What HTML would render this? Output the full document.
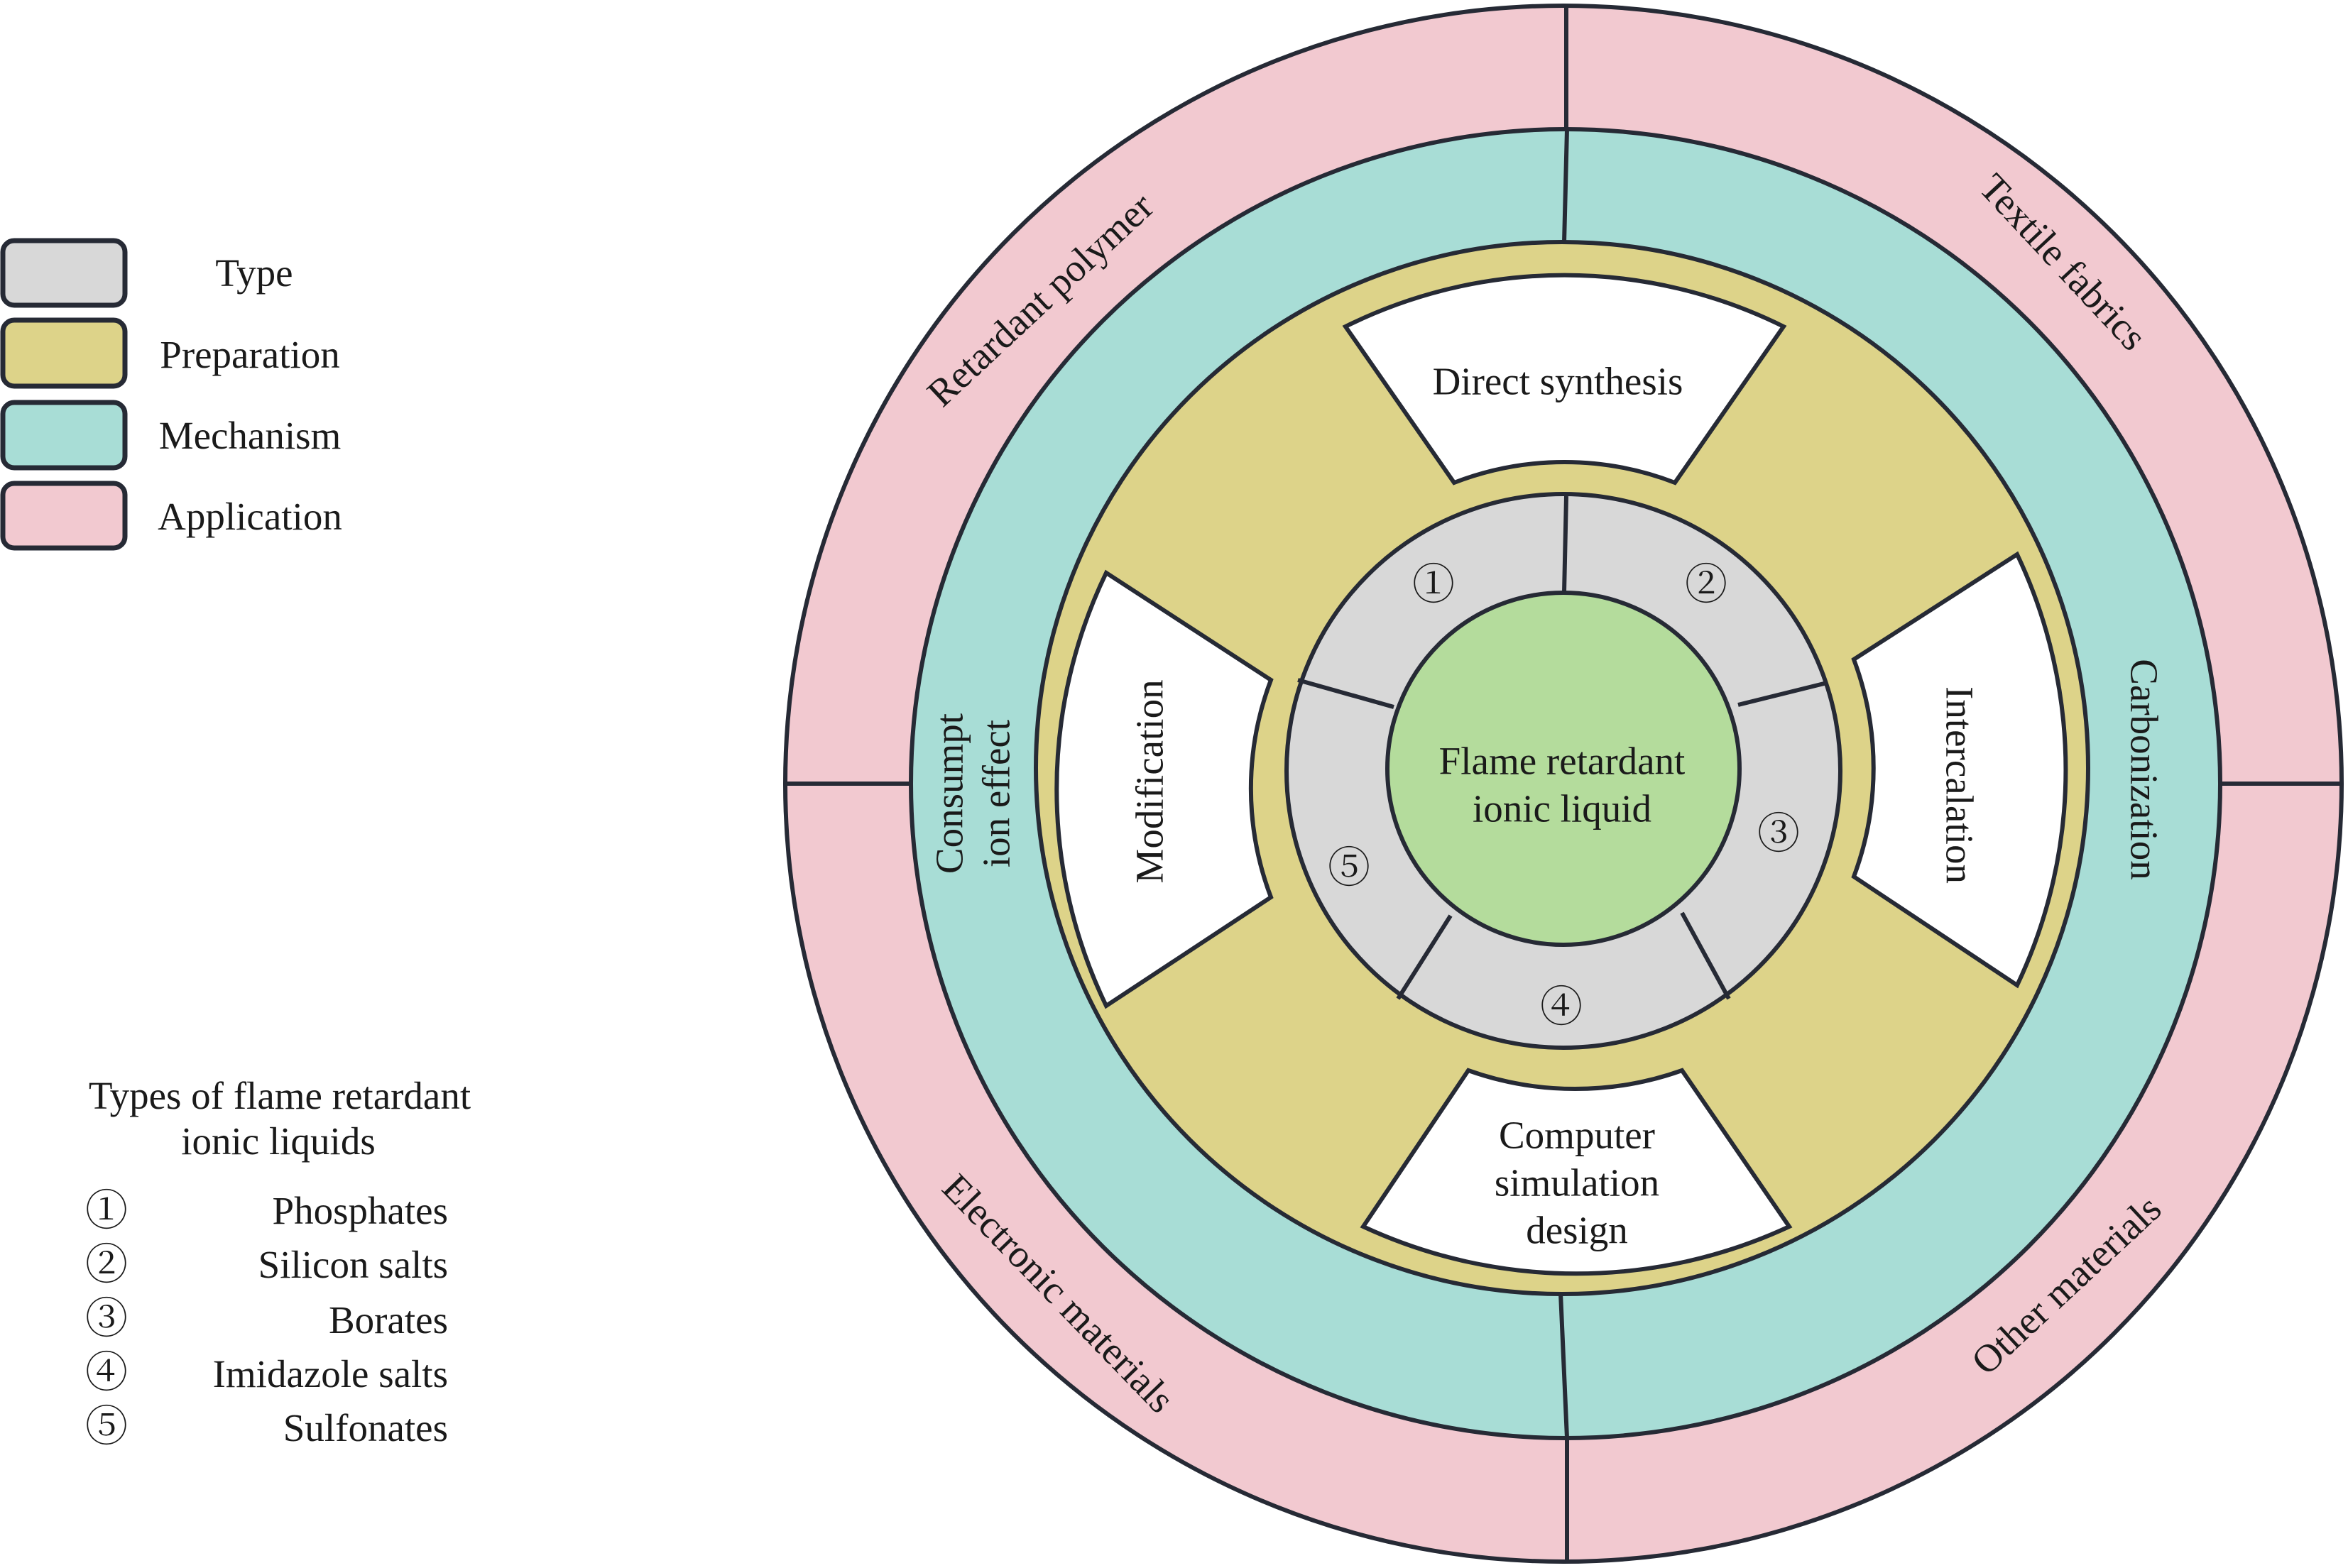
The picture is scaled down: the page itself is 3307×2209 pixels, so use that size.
<!DOCTYPE html>
<html><head><meta charset="utf-8"><style>
html,body{margin:0;padding:0;background:#fff;}
svg{display:block;}
text{font-family:"Liberation Serif","Noto Serif CJK SC","DejaVu Serif",serif;fill:#1a1a1a;}
</style></head><body>
<svg width="3307" height="2209" viewBox="0 0 3307 2209" xmlns="http://www.w3.org/2000/svg">
<g stroke="#262a35" stroke-width="6">
<circle cx="2202" cy="1104" r="1096" fill="#f2c9d0"/>
<circle cx="2205" cy="1104" r="922" fill="#a8ddd6"/>
<circle cx="2200" cy="1082" r="741" fill="#ddd389"/>
<path d="M1895,460 A694,694 0 0 1 2512,460 L2359,680 A431,431 0 0 0 2048,680 Z" fill="#fff"/>
<path d="M1558,807 L1790,958 A430,430 0 0 0 1790,1264 L1558,1417 A702,702 0 0 1 1558,807 Z" fill="#fff"/>
<path d="M2841,781 A707,707 0 0 1 2841,1388 L2611,1235 A436,436 0 0 0 2611,929 Z" fill="#fff"/>
<path d="M2068,1508 A448,448 0 0 0 2369,1508 L2520,1728 A712,712 0 0 1 1920,1728 Z" fill="#fff"/>
<circle cx="2202" cy="1086" r="390" fill="#d8d8d8"/>
<circle cx="2202" cy="1083" r="248" fill="#b4dc9c"/>
<line x1="2206" y1="699" x2="2203" y2="835"/>
<line x1="2573" y1="962" x2="2448" y2="993"/>
<line x1="2435" y1="1407" x2="2369" y2="1286"/>
<line x1="1969" y1="1407" x2="2043" y2="1290"/>
<line x1="1828" y1="958" x2="1963" y2="996"/>
<line x1="2206" y1="7" x2="2206" y2="182"/>
<line x1="2207" y1="182" x2="2203" y2="342"/>
<line x1="2198" y1="1822" x2="2207" y2="2026"/>
<line x1="2207" y1="2026" x2="2207" y2="2201"/>
<line x1="1106" y1="1104" x2="1284" y2="1104"/>
<line x1="3126" y1="1104" x2="3298" y2="1104"/>
</g>
<g stroke="#262a35" stroke-width="7">
<rect x="4" y="339" width="172" height="91" rx="16" fill="#d8d8d8"/>
<rect x="4" y="451" width="172" height="93" rx="16" fill="#ddd389"/>
<rect x="4" y="567" width="172" height="92" rx="16" fill="#a8ddd6"/>
<rect x="4" y="681" width="172" height="91" rx="16" fill="#f2c9d0"/>
</g>
<g font-size="55" text-anchor="middle">
<text x="358" y="403">Type</text>
<text x="352" y="518">Preparation</text>
<text x="352" y="632">Mechanism</text>
<text x="352" y="746">Application</text>
</g>
<g font-size="55">
<text x="394" y="1562" text-anchor="middle">Types of flame retardant</text>
<text x="392" y="1626" text-anchor="middle">ionic liquids</text>
<g text-anchor="middle" font-size="60">
<text x="150" y="1726">①</text><text x="150" y="1802">②</text><text x="150" y="1878">③</text><text x="150" y="1954">④</text><text x="150" y="2030">⑤</text>
</g>
<g text-anchor="end">
<text x="631" y="1724">Phosphates</text>
<text x="631" y="1800">Silicon salts</text>
<text x="631" y="1878">Borates</text>
<text x="631" y="1954">Imidazole salts</text>
<text x="631" y="2030">Sulfonates</text>
</g>
</g>
<g font-size="55" text-anchor="middle" dominant-baseline="central">
<text x="2194" y="537">Direct synthesis</text>
<text x="2200" y="1072">Flame retardant</text>
<text x="2200" y="1139">ionic liquid</text>
<text x="2221" y="1599">Computer</text>
<text x="2221" y="1666">simulation</text>
<text x="2221" y="1733">design</text>
<text transform="translate(1619,1101) rotate(-90)">Modification</text>
<text transform="translate(2760,1106) rotate(90)">Intercalation</text>
<text transform="translate(1337,1118) rotate(-90)">Consumpt</text>
<text transform="translate(1403,1118) rotate(-90)">ion effect</text>
<text transform="translate(3020,1084) rotate(90)">Carbonization</text>
<text transform="translate(1465,422) rotate(-43)">Retardant polymer</text>
<text transform="translate(2906,369) rotate(47)">Textile fabrics</text>
<text transform="translate(1491,1822) rotate(46)">Electronic materials</text>
<text transform="translate(2910,1810) rotate(-43)">Other materials</text>
</g>
<g font-size="60" text-anchor="middle" dominant-baseline="central">
<text x="2019" y="824">①</text>
<text x="2403" y="824">②</text>
<text x="2505" y="1175">③</text>
<text x="2199" y="1419">④</text>
<text x="1900" y="1223">⑤</text>
</g>
</svg>
</body></html>
